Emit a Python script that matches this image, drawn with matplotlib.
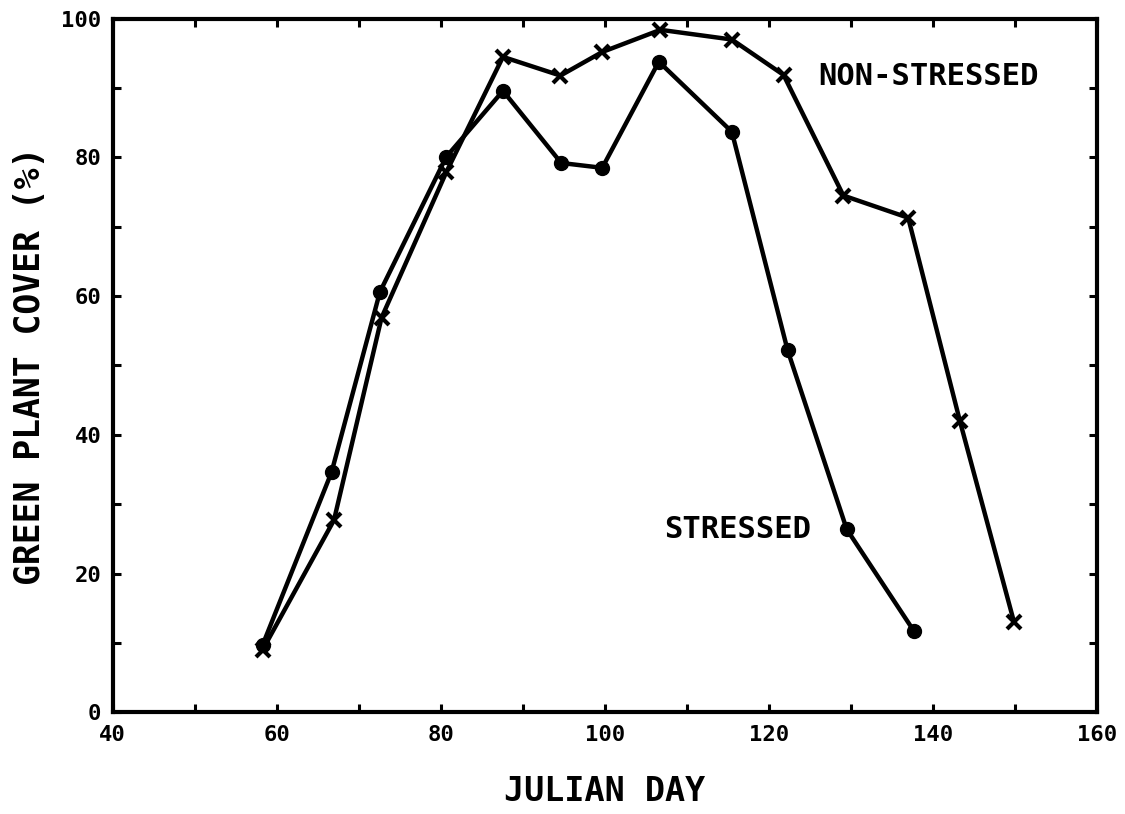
import numpy as np
import matplotlib
matplotlib.use("Agg")
import matplotlib.pyplot as plt
from matplotlib.ticker import MultipleLocator

plt.rcParams["font.family"] = ["DejaVu Sans Mono", "DejaVu Sans"]
plt.rcParams["font.weight"] = "bold"

# -----------------------------
# Data
# -----------------------------
stressed_day = [58.3, 66.7, 72.6, 80.7, 87.6, 94.7, 99.7, 106.6, 115.5, 122.3, 129.5, 137.7]
stressed_cover = [9.7, 34.6, 60.6, 80.1, 89.6, 79.2, 78.5, 93.8, 83.7, 52.2, 26.4, 11.7]

nonstressed_day = [58.3, 67.0, 72.8, 80.7, 87.6, 94.6, 99.7, 106.8, 115.5, 121.8, 129.1, 137.0, 143.3, 149.9]
nonstressed_cover = [9.0, 27.7, 56.9, 77.9, 94.5, 91.8, 95.2, 98.4, 97.0, 91.9, 74.5, 71.3, 42.0, 13.0]

x_ticks = [40, 60, 80, 100, 120, 140, 160]
y_ticks = [0, 20, 40, 60, 80, 100]

# -----------------------------
# Figure
# -----------------------------
fig = plt.figure(figsize=(11.25, 8.14), dpi=100)
ax = fig.add_axes([0.1, 0.125, 0.875, 0.852])

ax.plot(stressed_day, stressed_cover, color="black", lw=3.2,
        marker="o", markersize=10, solid_capstyle="round", solid_joinstyle="round")
ax.plot(nonstressed_day, nonstressed_cover, color="black", lw=3.2,
        marker="x", markersize=10, markeredgewidth=3, solid_joinstyle="round")

ax.set_xlim(40, 160)
ax.set_ylim(0, 100)
ax.set_xticks(x_ticks)
ax.set_yticks(y_ticks)
ax.xaxis.set_minor_locator(MultipleLocator(10))
ax.yaxis.set_minor_locator(MultipleLocator(10))

for side in ax.spines.values():
    side.set_linewidth(3)

ax.tick_params(which="both", direction="in", top=True, right=True,
               length=6, width=2.2)
ax.tick_params(axis="x", which="major", pad=9, labelsize=16)
ax.tick_params(axis="y", which="major", pad=8, labelsize=16)

ax.set_xlabel("JULIAN DAY", fontsize=24, fontweight="bold", labelpad=22)
ax.set_ylabel("GREEN PLANT COVER (%)", fontsize=25, fontweight="bold", labelpad=10)

ax.text(126.0, 91.6, "NON-STRESSED", fontsize=22, va="center", ha="left")
ax.text(107.3, 26.4, "STRESSED", fontsize=22, va="center", ha="left")

fig.savefig("out.png", dpi=100)
